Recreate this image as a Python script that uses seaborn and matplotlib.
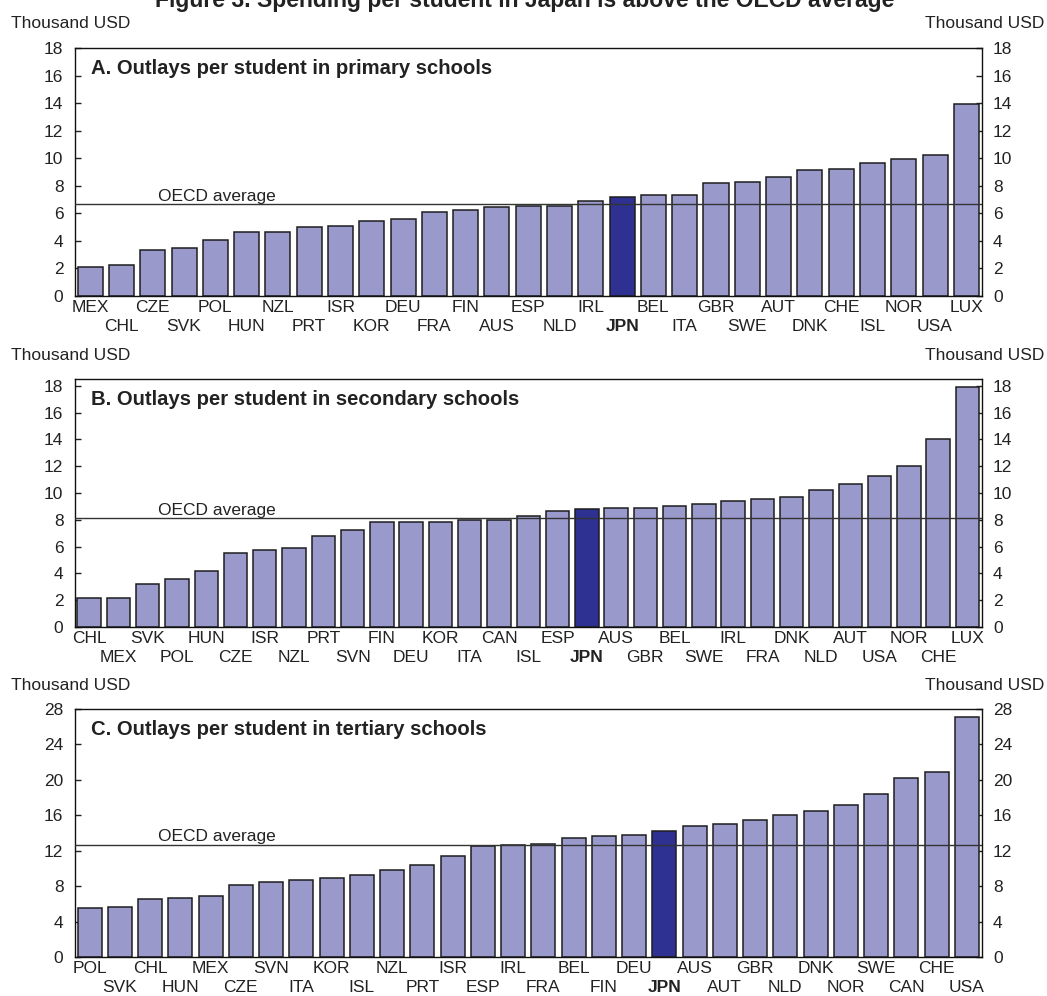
import matplotlib
matplotlib.use("Agg")
import matplotlib.pyplot as plt
import seaborn as sns
import pandas as pd

sns.set_theme(style="white")
plt.rcParams['font.family'] = ['Liberation Sans', 'DejaVu Sans']

# ---------------- data ----------------
primary_countries = ["MEX", "CHL", "CZE", "SVK", "POL", "HUN", "NZL", "PRT", "ISR", "KOR",
                     "DEU", "FRA", "FIN", "AUS", "ESP", "NLD", "IRL", "JPN", "BEL", "ITA",
                     "GBR", "SWE", "AUT", "DNK", "CHE", "ISL", "NOR", "USA", "LUX"]
primary_values = [2.1, 2.24, 3.37, 3.51, 4.07, 4.68, 4.68, 5.0, 5.07, 5.41,
                  5.56, 6.1, 6.24, 6.49, 6.53, 6.53, 6.86, 7.22, 7.32, 7.32,
                  8.17, 8.31, 8.63, 9.16, 9.21, 9.62, 9.92, 10.2, 13.96]
primary_oecd = 6.65

secondary_countries = ["CHL", "MEX", "SVK", "POL", "HUN", "CZE", "ISR", "NZL", "PRT", "SVN",
                       "FIN", "DEU", "KOR", "ITA", "CAN", "ISL", "ESP", "JPN", "AUS", "GBR",
                       "BEL", "SWE", "IRL", "FRA", "DNK", "NLD", "AUT", "USA", "NOR", "CHE", "LUX"]
secondary_values = [2.19, 2.19, 3.2, 3.58, 4.2, 5.49, 5.71, 5.91, 6.81, 7.25,
                    7.83, 7.83, 7.83, 7.95, 8.0, 8.3, 8.68, 8.78, 8.85, 8.9,
                    9.0, 9.15, 9.38, 9.53, 9.68, 10.22, 10.65, 11.3, 12.0, 13.99, 17.93]
secondary_oecd = 8.1

tertiary_countries = ["POL", "SVK", "CHL", "HUN", "MEX", "CZE", "SVN", "ITA", "KOR", "ISL",
                      "NZL", "PRT", "ISR", "ESP", "IRL", "FRA", "BEL", "FIN", "DEU", "JPN",
                      "AUS", "AUT", "GBR", "NLD", "DNK", "NOR", "SWE", "CAN", "CHE", "USA"]
tertiary_values = [5.53, 5.68, 6.54, 6.69, 6.92, 8.12, 8.5, 8.65, 8.87, 9.29,
                   9.85, 10.38, 11.35, 12.48, 12.63, 12.78, 13.43, 13.62, 13.81, 14.19,
                   14.75, 15.06, 15.47, 16.0, 16.49, 17.17, 18.38, 20.23, 20.9, 27.06]
tertiary_oecd = 12.7

panel_titles = ["A. Outlays per student in primary schools",
                "B. Outlays per student in secondary schools",
                "C. Outlays per student in tertiary schools"]
fig_title = "Figure 3. Spending per student in Japan is above the OECD average"
unit_label = "Thousand USD"
avg_label = "OECD average"
highlight = "JPN"

y_limits = [(0, 18), (0, 18.5), (0, 28)]
y_ticks = [list(range(0, 19, 2)), list(range(0, 19, 2)), list(range(0, 29, 4))]

# ---------------- style ----------------
LIGHT = "#9999CC"
DARK = "#2E3192"
EDGE = "#1e1e1e"
FS = 12.5

W, H = 1047, 996
fig = plt.figure(figsize=(W / 100, H / 100), dpi=100)

panels = [
    (primary_countries, primary_values, primary_oecd),
    (secondary_countries, secondary_values, secondary_oecd),
    (tertiary_countries, tertiary_values, tertiary_oecd),
]
frame_tops = [48, 379, 709]
ax_h = 248
left_px, right_px = 74.5, 982

for i, (cats, vals, avg) in enumerate(panels):
    top = frame_tops[i]
    ax = fig.add_axes([left_px / W, 1 - (top + ax_h) / H, (right_px - left_px) / W, ax_h / H])
    df = pd.DataFrame({"country": cats, "value": vals})
    pal = {c: (DARK if c == highlight else LIGHT) for c in cats}
    sns.barplot(data=df, x="country", y="value", hue="country", palette=pal,
                legend=False, width=0.8, saturation=1, edgecolor=EDGE,
                linewidth=1.1, ax=ax)
    n = len(cats)
    ax.set_xlim(-0.5, n - 0.5)
    ax.set_ylim(*y_limits[i])
    ax.set_yticks(y_ticks[i])
    ax.set_xticks(range(n))
    ax.set_xticklabels(cats)
    ax.set_xlabel("")
    ax.set_ylabel("")
    ax.tick_params(axis="y", which="both", direction="in", left=True, right=True,
                   labelleft=True, labelright=True, length=4, width=1,
                   labelsize=FS, pad=8, colors="#222222")
    ax.tick_params(axis="x", direction="in", bottom=True, top=False, length=4,
                   width=0.8, labelsize=FS, pad=3, colors="#222222")
    # alternate label rows
    for k, tk in enumerate(ax.xaxis.get_major_ticks()):
        if k % 2 == 1:
            tk.set_pad(16.5)
    for lbl in ax.get_xticklabels():
        if lbl.get_text() == highlight:
            lbl.set_fontweight("bold")
    for s in ax.spines.values():
        s.set_visible(True)
        s.set_color("#111111")
        s.set_linewidth(1.0)

    ax.axhline(avg, color="#333333", linewidth=1.0, zorder=5)
    ax.annotate(avg_label, xy=(0.092, avg), xycoords=("axes fraction", "data"),
                xytext=(0, 0.5), textcoords="offset points", va="bottom", ha="left",
                fontsize=FS, color="#222222")
    ax.text(0.018, 0.895, panel_titles[i], transform=ax.transAxes, ha="left",
            va="baseline", fontsize=14.6, fontweight="bold", color="#222222")

    base_y = 1 - (top - 19.5) / H
    fig.text(11 / W, base_y, unit_label, ha="left", va="baseline", fontsize=FS, color="#222222")
    fig.text(1044 / W, base_y, unit_label, ha="right", va="baseline", fontsize=FS, color="#222222")

fig.text(525 / W, 1 - 7 / H, fig_title, ha="center", va="baseline",
         fontsize=16.5, fontweight="bold", color="#222222")

fig.savefig("out.png", dpi=100)
